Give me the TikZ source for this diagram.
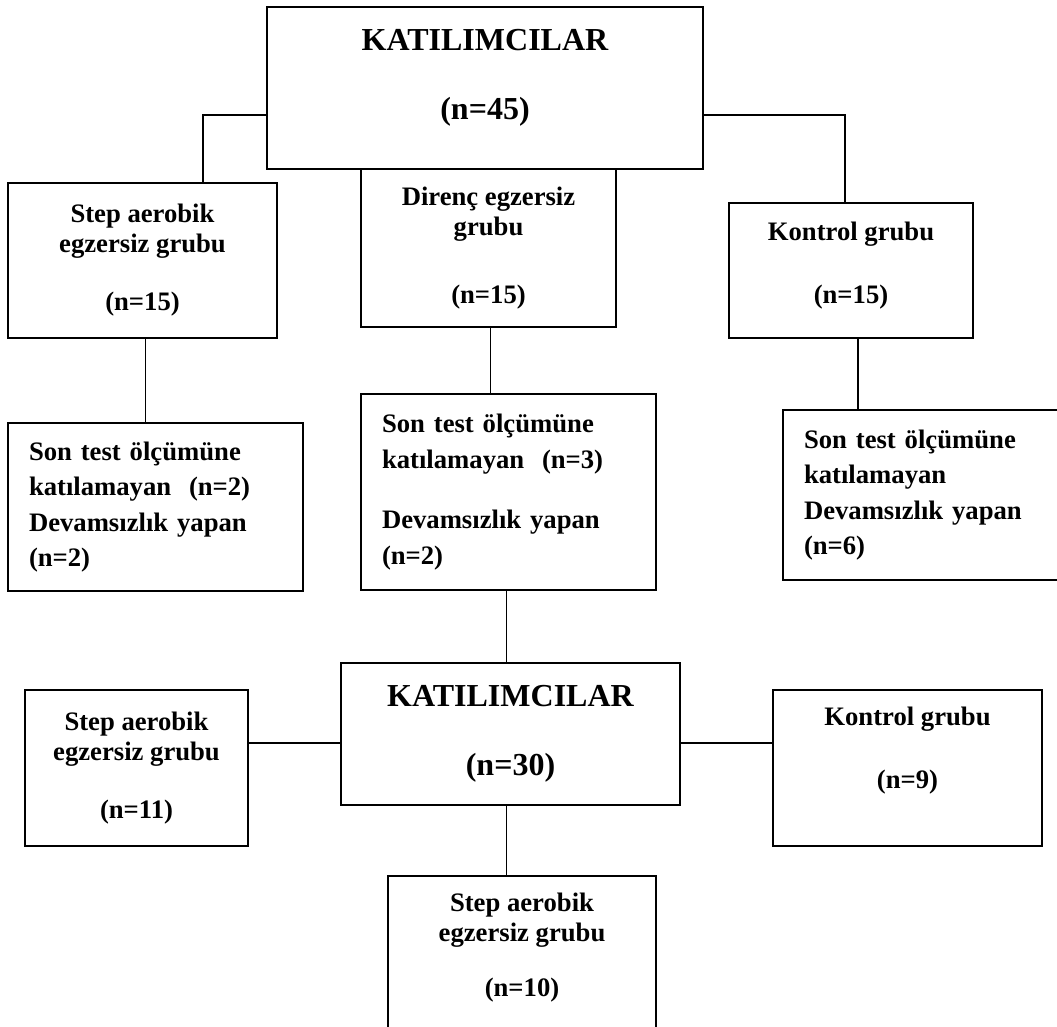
\documentclass[tikz,border=0pt]{standalone}
\usepackage{fontspec}
\setmainfont{Liberation Serif}
\usepackage{tikz}
\newlength{\px}
\setlength{\px}{0.75pt}
\newcommand{\padbelow}[1]{\vrule width 0pt height 0pt depth #1}
\tikzset{
  box/.style={draw,line width=1.1pt,inner sep=0pt,align=center,font=\fontsize{20}{22.5}\selectfont\bfseries},
  bigbox/.style={box,font=\fontsize{24}{28.8}\selectfont\bfseries},
  listbox/.style={box,align=left,inner xsep=21\px,font=\fontsize{20}{26.6}\selectfont\bfseries},
  link/.style={line width=0.8pt}
}

\begin{document}
\begin{tikzpicture}[x=0.75pt,y=-0.75pt]
  \useasboundingbox (0,0) rectangle (1057,1026);
  \clip (0,0) rectangle (1057,1026);
  % groups at the start
  \node[bigbox,minimum width=436\px,minimum height=162\px] (all) at (485,88) {KATILIMCILAR\\[23pt](n=45)\padbelow{21pt}};
  \node[box,minimum width=269\px,minimum height=155\px] (step) at (142.5,260.5) {Step aerobik\\egzersiz grubu\\[21pt](n=15)};
  \node[box,minimum width=255\px,minimum height=158\px] (direnc) at (488.5,248) {Direnç egzersiz\\grubu\\[28pt](n=15)};
  \node[box,minimum width=244\px,minimum height=135\px] (kontrol) at (851,270.5) {Kontrol grubu\\[24.5pt](n=15)\padbelow{12pt}};
  % drop-outs
  \node[listbox,minimum width=295\px,minimum height=168\px,text width=253\px] (stepout) at (155.5,507) {Son test ölçümüne\\katılamayan~~(n=2)\\Devamsızlık yapan\\(n=2)};
  \node[listbox,minimum width=295\px,minimum height=196\px,text width=253\px] (direncout) at (508.5,492) {Son test ölçümüne\\katılamayan~~(n=3)\\[19pt]Devamsızlık yapan\\(n=2)};
  \node[listbox,minimum width=300\px,minimum height=170\px,text width=258\px] (kontrolout) at (933,495) {Son test ölçümüne\\katılamayan\\Devamsızlık yapan\\(n=6)};
  % groups at the end
  \node[bigbox,minimum width=339\px,minimum height=142\px] (final) at (510.5,734) {KATILIMCILAR\\[23pt](n=30)};
  \node[box,minimum width=223\px,minimum height=156\px] (stepfinal) at (136.5,768) {Step aerobik\\egzersiz grubu\\[21pt](n=11)};
  \node[box,minimum width=269\px,minimum height=156\px] (kontrolfinal) at (907.5,768) {Kontrol grubu\\[24.5pt](n=9)\padbelow{30pt}};
  \node[box,minimum width=268\px,minimum height=154\px] (lastgroup) at (522,953) {Step aerobik\\egzersiz grubu\\[19pt](n=10)\padbelow{12pt}};
  % connectors
  \coordinate (splitL) at (203,115);
  \coordinate (splitR) at (845,115);
  \draw[link] (all.west |- splitL) -- (splitL) -- (splitL |- step.north);
  \draw[link] (all.east |- splitR) -- (splitR) -- (splitR |- kontrol.north);
  \draw[link] ([xshift=3\px]step.south) -- ([xshift=3\px]step.south |- stepout.north);
  \draw[link] ([xshift=2\px]direnc.south) -- ([xshift=2\px]direnc.south |- direncout.north);
  \draw[link] ([xshift=7\px]kontrol.south) -- ([xshift=7\px]kontrol.south |- kontrolout.north);
  \draw[link] ([xshift=-2\px]direncout.south) -- ([xshift=-2\px]direncout.south |- final.north);
  \draw[link] ([yshift=-9\px]final.west) -- ([yshift=-9\px]final.west -| stepfinal.east);
  \draw[link] ([yshift=-9\px]final.east) -- ([yshift=-9\px]final.east -| kontrolfinal.west);
  \draw[link] ([xshift=-4\px]final.south) -- ([xshift=-4\px]final.south |- lastgroup.north);
\end{tikzpicture}
\end{document}
